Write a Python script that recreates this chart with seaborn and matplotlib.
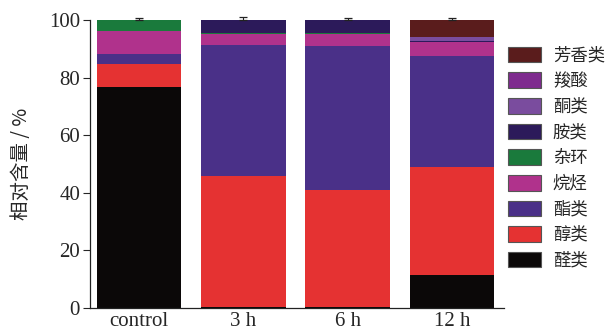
import matplotlib
matplotlib.use("Agg")
import matplotlib.pyplot as plt
import seaborn as sns
import numpy as np
import pandas as pd
from matplotlib.patches import Patch

sns.set_style("ticks")
plt.rcParams['font.family'] = ['Liberation Serif', 'Noto Sans CJK SC', 'DejaVu Sans']

categories = ['control', '3 h', '6 h', '12 h']
series_names = ['醛类', '醇类', '酯类', '烷烃', '杂环', '胺类', '酮类', '羧酸', '芳香类']
aldehydes = [76.8, 0.5, 0.3, 11.5]
alcohols = [8.0, 45.3, 40.6, 37.3]
esters = [3.5, 45.5, 50.2, 38.7]
alkanes = [8.0, 3.8, 4.0, 5.0]
heterocycles = [3.7, 0.3, 0.5, 0.0]
amines = [0.0, 4.6, 4.4, 0.3]
ketones = [0.0, 0.0, 0.0, 1.2]
acids = [0.0, 0.0, 0.0, 0.0]
aromatics = [0.0, 0.0, 0.0, 6.0]
error = [0.6, 1.0, 0.6, 0.8]

colors = ['#0b0808', '#e53232', '#4a3088', '#b0328c', '#1a7a3c',
          '#2c1a5a', '#7a4c9e', '#7e2a8e', '#5a1c1c']
series = [aldehydes, alcohols, esters, alkanes, heterocycles, amines, ketones, acids, aromatics]

df = pd.DataFrame(dict(zip(series_names, series)), index=categories)
cum = df.cumsum(axis=1)

fig, ax = plt.subplots(figsize=(6.15, 3.33), dpi=100)
fig.subplots_adjust(left=0.146, right=0.82, bottom=0.075, top=0.94)

for name, col in reversed(list(zip(series_names, colors))):
    sns.barplot(x=categories, y=cum[name].values, color=col, ax=ax,
                width=0.81, saturation=1, edgecolor='none', linewidth=0)

tot = cum[series_names[-1]].values
eb = ax.errorbar(np.arange(len(categories)), tot, yerr=[np.zeros(len(categories)), error],
                 fmt='none', ecolor='#222222', elinewidth=0.8, capsize=3.2, capthick=0.9)
for artist in eb.lines[1] + eb.lines[2]:
    artist.set_clip_on(False)

ax.set_ylim(0, 100)
ax.set_xlim(-0.47, 3.5)
ax.set_yticks([0, 20, 40, 60, 80, 100])
ax.tick_params(axis='y', direction='out', length=5, width=0.8, labelsize=15, pad=2)
ax.tick_params(axis='x', direction='in', length=5, width=0.8, labelsize=15, pad=3)
for s in ['top', 'right']:
    ax.spines[s].set_visible(False)
for s in ['left', 'bottom']:
    ax.spines[s].set_linewidth(0.9)
    ax.spines[s].set_color('#222222')
ax.set_ylabel('相对含量 / %', fontsize=14, family=['Noto Sans CJK SC', 'DejaVu Sans'], labelpad=12)

handles = [Patch(facecolor=c, edgecolor='#555555', linewidth=0.8, label=n)
           for n, c in zip(series_names, colors)]
leg = ax.legend(handles=list(reversed(handles)), loc='upper left', bbox_to_anchor=(1.0, 0.92),
                frameon=False, prop={'family': 'Noto Sans CJK SC', 'size': 12.5},
                handlelength=1.9, handleheight=1.0, labelspacing=0.44, handletextpad=0.7,
                borderaxespad=0.0, borderpad=0.2)

fig.savefig('out.png', dpi=100)
